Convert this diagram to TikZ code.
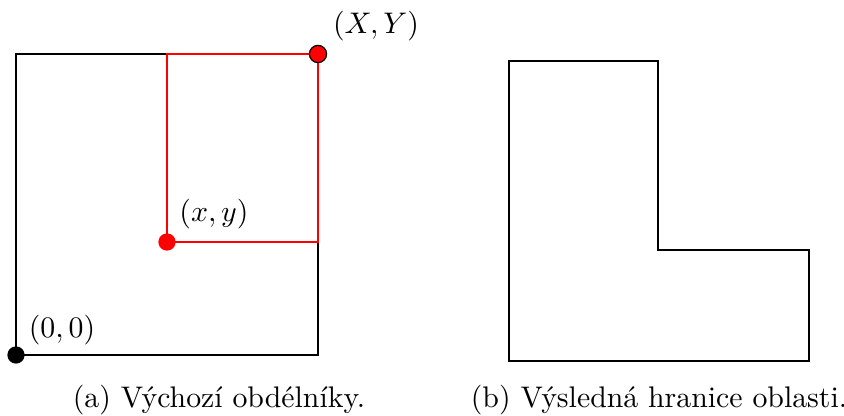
\documentclass[tikz,border=0pt]{standalone}
\usepackage{fontspec}
\begin{document}
\begin{tikzpicture}[x=0.0118cm, y=-0.0118cm]
    \def\dotsize{2.9pt}

    \useasboundingbox (0,0) rectangle (844,416);

    \coordinate (Origin) at (16,355);
    \coordinate (Top) at (318,54);
    \coordinate (Low) at (167,242);

    % Left: rectangles

    \draw[line width=0.9pt] (Origin) rectangle (Top);
    \draw[color=red, line width=0.9pt] (Low) rectangle (Top);

    \fill[black] (Origin) circle (\dotsize);
    \fill[red] (Low) circle (\dotsize);
    \filldraw[fill=red, draw=black, thin] (Top) circle (\dotsize);

    \node (LabelOrigin) at (62,330) {$(0,0)$};
    \node (LabelLow) at (214,214) {$(x,y)$};
    \node (LabelTop) at (376,26) {$(X,Y)$};

    % Right: boundary

    \draw[line width=0.9pt] (509,61) -- (658,61) -- (658,250) -- (809,250) -- (809,361) -- (509,361) -- cycle;

    \node (CaptionA) at (219,400) {(a) Výchozí obdélníky.};
    \node (CaptionB) at (659,400) {(b) Výsledná hranice oblasti.};

\end{tikzpicture}
\end{document}
